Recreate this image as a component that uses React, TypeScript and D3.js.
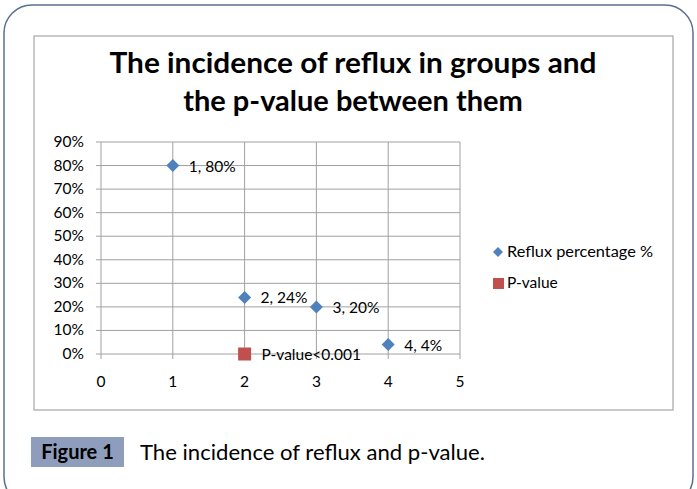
import React from 'react';
import * as d3 from 'd3';

const groups = [1, 2, 3, 4];
const refluxPct = [80, 24, 20, 4];
const pValuePoint = { x: 2, y: 0, label: 'P-value<0.001' };
const yTicks = [0, 10, 20, 30, 40, 50, 60, 70, 80, 90];
const xTicks = [0, 1, 2, 3, 4, 5];
const legendItems = ['Reflux percentage %', 'P-value'];

const BLUE = '#4f81bd';
const RED = '#c0504d';
const FONT = 'Lato, "Open Sans", sans-serif';

const App = () => {
  const W = 697;
  const H = 489;
  const x = d3.scaleLinear().domain([0, 5]).range([101, 460]);
  const y = d3.scaleLinear().domain([0, 90]).range([354, 142]);

  const diamond = (cx, cy, r) => `M${cx},${cy - r}L${cx + r},${cy}L${cx},${cy + r}L${cx - r},${cy}Z`;

  return (
    <svg width={W} height={H} style={{ position: 'absolute', left: 0, top: 0 }} fontFamily={FONT}>
      <rect width={W} height={H} fill="#fff" />
      {/* outer rounded frame */}
      <rect x={4} y={5} width={689} height={500} rx={28} fill="none" stroke="#5a7090" strokeWidth={1.5} />
      {/* chart box */}
      <rect x={34} y={36} width={639} height={374} fill="#fff" stroke="#a6a6a6" strokeWidth={1.2} />

      <text x={353} y={73} textAnchor="middle" fontSize={29} fontWeight="bold" fill="#000" textLength={487} lengthAdjust="spacingAndGlyphs">
        The incidence of reflux in groups and
      </text>
      <text x={353} y={111} textAnchor="middle" fontSize={29} fontWeight="bold" fill="#000">
        the p-value between them
      </text>

      {/* grid */}
      {yTicks.map((t) => (
        <line key={'h' + t} x1={x(0)} x2={x(5)} y1={y(t)} y2={y(t)} stroke="#a0a0a0" strokeWidth={1} />
      ))}
      {xTicks.slice(1).map((t) => (
        <line key={'v' + t} x1={x(t)} x2={x(t)} y1={y(90)} y2={y(0) + 5} stroke="#a0a0a0" strokeWidth={1} />
      ))}
      <line x1={x(0)} x2={x(0)} y1={y(90)} y2={y(0) + 5} stroke="#a0a0a0" />
      {yTicks.map((t) => (
        <line key={'yt' + t} x1={x(0) - 5} x2={x(0)} y1={y(t)} y2={y(t)} stroke="#a0a0a0" />
      ))}

      {yTicks.map((t) => (
        <text key={'yl' + t} x={84} y={y(t) + 5} textAnchor="end" fontSize={15.5} fill="#000">
          {t}%
        </text>
      ))}
      {xTicks.map((t) => (
        <text key={'xl' + t} x={x(t)} y={387} textAnchor="middle" fontSize={15.5} fill="#000">
          {t}
        </text>
      ))}

      {groups.map((g, i) => (
        <g key={'p' + g}>
          <path d={diamond(x(g), y(refluxPct[i]), 6.5)} fill={BLUE} />
          <text x={x(g) + 16} y={y(refluxPct[i]) + 6} fontSize={15.5} fill="#000">
            {g}, {refluxPct[i]}%
          </text>
        </g>
      ))}
      <rect x={x(pValuePoint.x) - 6.5} y={y(pValuePoint.y) - 6.5} width={13} height={13} fill={RED} />
      <text x={x(pValuePoint.x) + 17} y={y(pValuePoint.y) + 6} fontSize={15.5} fill="#000">
        {pValuePoint.label}
      </text>

      {/* legend */}
      <path d={diamond(498, 252, 5)} fill={BLUE} />
      <text x={507} y={257} fontSize={15.5} fill="#000" textLength={146} lengthAdjust="spacingAndGlyphs">{legendItems[0]}</text>
      <rect x={493} y={278} width={11} height={11} fill={RED} />
      <text x={507} y={288} fontSize={15.5} fill="#000">{legendItems[1]}</text>

      {/* caption */}
      <rect x={31} y={437} width={93} height={30} fill="#8e9dbb" />
      <text x={77.5} y={459} textAnchor="middle" fontSize={20} fontWeight="bold" fill="#000">Figure 1</text>
      <text x={140} y={460} fontSize={21.5} fill="#000" textLength={345} lengthAdjust="spacingAndGlyphs">The incidence of reflux and p-value.</text>
    </svg>
  );
};

export default App;
